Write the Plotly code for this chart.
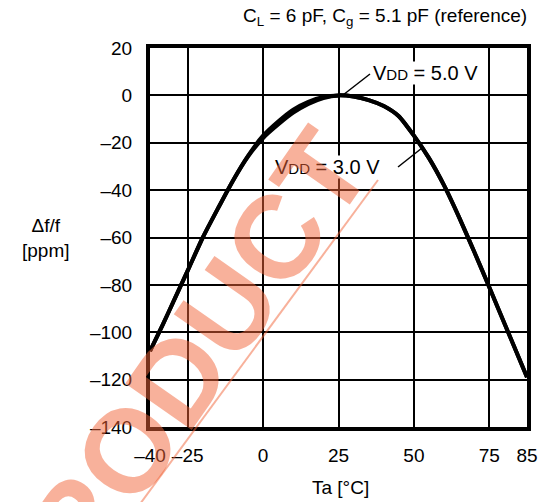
import numpy as np
import plotly.graph_objects as go

# ---- data ----
temps = [-40, -35, -30, -25, -20, -15, -10, -5, 0, 5, 10, 15, 20, 25,
         30, 35, 40, 45, 50, 55, 60, 65, 70, 75, 80, 85]
ppm_vdd_5v0 = [-108, -97, -85.5, -74, -60, -47.8, -36, -25.5, -17, -11, -6, -2.7, -0.7, 0,
               -0.5, -2, -4.5, -8.8, -17, -26.5, -38, -51.5, -66, -81, -100, -119]
ppm_vdd_3v0 = [-108, -97, -85.5, -74, -60, -47.8, -36, -25.8, -18, -12.3, -7.3, -3.6, -1.1, 0,
               -0.5, -2, -4.5, -8.8, -17, -26.5, -38, -51.5, -66, -81, -100, -119]

x_tick_vals = [-40, -25, 0, 25, 50, 75, 85]
x_tick_text = ["–40", "–25", "0", "25", "50", "75", "85"]
y_tick_vals = [20, 0, -20, -40, -60, -80, -100, -120, -140]
y_tick_text = ["20", "0", "–20", "–40", "–60", "–80", "–100", "–120", "–140"]

# the datasheet's temperature axis: end segments are compressed/stretched
X_BREAKS = [-40, -25, 75, 85]
U_BREAKS = [0.0, 0.1, 0.9, 1.0]


def xmap(t):
    return np.interp(t, X_BREAKS, U_BREAKS)


FONT = "Liberation Sans, Arial, sans-serif"
OFF = 8  # page body margin
W, H = 550 - OFF, 502 - OFF
L, R, T, B = 150 - OFF, 23, 48 - OFF, 75
PW, PH = W - L - R, H - T - B


def px(x):
    return (x - OFF - L) / PW


def py(y):
    return (H - B - (y - OFF)) / PH


fig = go.Figure()
for name, vals in [("VDD = 5.0 V", ppm_vdd_5v0), ("VDD = 3.0 V", ppm_vdd_3v0)]:
    fig.add_trace(go.Scatter(
        x=xmap(temps), y=vals, mode="lines", name=name,
        line=dict(color="black", width=4, shape="spline", smoothing=0.6),
        showlegend=False, hoverinfo="skip"))

axis_common = dict(
    showline=True, linecolor="black", linewidth=4, mirror=True,
    showgrid=True, gridcolor="black", gridwidth=1.6, zeroline=False,
    ticks="", tickfont=dict(family=FONT, size=19, color="black"), tickangle=0,
)
fig.update_xaxes(range=[0, 1], tickvals=list(xmap(x_tick_vals)), ticktext=x_tick_text,
                 ticklabelstandoff=8, **axis_common)
fig.update_yaxes(range=[-140, 20], tickvals=y_tick_vals, ticktext=y_tick_text,
                 ticklabelstandoff=10, **axis_common)

sub = "<span style='font-size:15px'>DD</span>"
ann = [
    dict(text="C<sub>L</sub> = 6 pF, C<sub>g</sub> = 5.1 pF (reference)",
         x=px(529), y=py(17), xanchor="right", yanchor="middle", font=dict(size=19)),
    dict(text="Δf/f<br>[ppm]", x=px(46), y=py(238), xanchor="center", yanchor="middle",
         font=dict(size=19), align="center"),
    dict(text="Ta [°C]", x=px(340), y=py(487), xanchor="center", yanchor="middle",
         font=dict(size=19)),
    dict(text="V" + sub + " = 5.0 V", x=px(372), y=py(73), xanchor="left", yanchor="middle",
         font=dict(size=20), bgcolor="white", borderpad=0),
    dict(text="V" + sub + " = 3.0 V", x=px(274), y=py(167), xanchor="left", yanchor="middle",
         font=dict(size=20), bgcolor="white", borderpad=0),
    # watermark overlay
    dict(text="<b>PRODUCT</b>", x=px(174), y=py(384), xanchor="center", yanchor="middle",
         textangle=-55, font=dict(size=118, color="rgba(242,100,55,0.5)")),
]
for a in ann:
    a.setdefault("xref", "paper")
    a.setdefault("yref", "paper")
    a.setdefault("showarrow", False)
    f = a["font"]
    f.setdefault("family", FONT)
    f.setdefault("color", "black")
fig.update_layout(annotations=ann)

shapes = [
    dict(type="line", x0=px(343), y0=py(95), x1=px(370), y1=py(74),
         line=dict(color="black", width=1.5)),
    dict(type="line", x0=px(398), y0=py(167), x1=px(422), y1=py(148),
         line=dict(color="black", width=1.5)),
    dict(type="line", x0=px(378), y0=py(180), x1=px(140), y1=py(504),
         line=dict(color="rgba(242,100,55,0.5)", width=2), layer="above"),
]
for s in shapes:
    s["xref"] = "paper"
    s["yref"] = "paper"
fig.update_layout(shapes=shapes)

fig.update_layout(
    width=W, height=H, margin=dict(l=L, r=R, t=T, b=B),
    paper_bgcolor="white", plot_bgcolor="white",
    font=dict(family=FONT, color="black"),
)
fig.write_html("out.html")
